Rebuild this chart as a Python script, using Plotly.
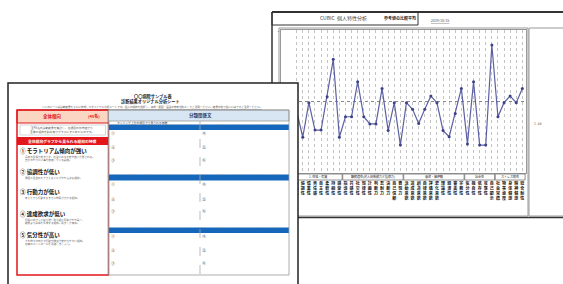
import plotly.graph_objects as go

W, H = 563, 284
FONT = "Noto Sans CJK JP"

# ---------------- data ----------------
scores = [46, 35, 49.5, 38, 38, 52, 67.7, 35, 43.6, 43.6, 58.3, 43.6, 40.6, 40.6,
          55.5, 37.8, 49.5, 31.7, 49.5, 46.7, 40.8, 46.7, 52.3, 49.5, 37.8, 35.2,
          45, 55.5, 32.2, 58.3, 31.7, 31.7, 73.7, 43.6, 49.5, 52.3, 49.5, 55.5]
item_names = ["積極性", "協調性", "慎重性", "責任感", "自主性", "柔軟性", "持続性", "感受性",
              "指導性", "共感性", "社交性", "規律性", "計画性", "判断力", "忍耐力", "決断力",
              "自己信頼", "表現力",
              "活動意欲", "達成意欲", "創造意欲", "自律意欲", "評価意欲", "変化意欲",
              "理論性", "経済性", "審美性", "宗教性",
              "気分性", "独自性", "依存性", "攻撃性", "自己顕示",
              "社会常識", "物事態度", "身体健康", "精神健康", "総合耐性"]
group_names = ["1. 性格・気質", "職務適性(対人関係能力と指導力)", "意欲・価値観", "社会性", "ストレス耐性"]
group_sizes = [8, 10, 10, 5, 5]
mean_score = 50
left_items = ["① モラトリアム傾向が強い", "② 協調性が低い", "③ 行動力が低い",
              "④ 達成欲求が低い", "⑤ 気分性が高い"]
right_numbers_left = ["①", "②", "③"]
right_numbers_right = ["④", "⑤", "⑥"]

# ---------------- helpers ----------------
def X(px):
    return px / W

def Y(py):
    return 1 - py / H

shapes = []
annotations = []

def rect(x0, y0, x1, y1, line="#222", width=1, fill="rgba(0,0,0,0)", layer="above", dash=None):
    d = dict(type="rect", xref="paper", yref="paper", x0=X(x0), x1=X(x1), y0=Y(y1), y1=Y(y0),
             line=dict(color=line, width=width), fillcolor=fill, layer=layer)
    if dash:
        d["line"]["dash"] = dash
    if width == 0:
        d["line"] = dict(width=0)
    shapes.append(d)

def line(x0, y0, x1, y1, color="#222", width=1, dash=None, layer="above"):
    d = dict(type="line", xref="paper", yref="paper", x0=X(x0), x1=X(x1), y0=Y(y0), y1=Y(y1),
             line=dict(color=color, width=width), layer=layer)
    if dash:
        d["line"]["dash"] = dash
    shapes.append(d)

def text(x, y, s, size=5, color="#222", anchor="center", bold=False):
    if bold:
        s = "<b>" + s + "</b>"
    annotations.append(dict(xref="paper", yref="paper", x=X(x), y=Y(y), text=s, showarrow=False,
                            xanchor=anchor, yanchor="middle",
                            font=dict(family=FONT, size=size, color=color), borderpad=0))

# ---------------- back document ----------------
line(272, 12, 563, 12, "#333", 2)
line(272, 12, 272, 90, "#333", 1.5)
rect(272, 12, 418, 25, "#333", 1)
text(343, 18.5, "CUBIC  個人特性分析", 5, "#444")
text(400, 18.5, "参考値の比較平均", 4, "#222", bold=True)
text(440, 20, "<u>2019/10/15</u>", 3.5, "#555")
rect(279, 28, 528, 216, "#999", 1)
rect(529, 28, 570, 216, "#999", 1)
text(533, 123, "1 .##", 3.5, "#666", anchor="left")
text(278, 32, "▪", 3, "#666")
line(298, 217.5, 563, 217.5, "#333", 1.5)

# group boxes below the chart
start = 0
spacing = 245 / (37.6 + 2.57)
for name, n in zip(group_names, group_sizes):
    x0 = 296.7 + spacing * (start - 0.45)
    x1 = 296.7 + spacing * (start + n - 1 + 0.45)
    rect(x0, 174, x1, 180, "#777", 0.8)
    text((x0 + x1) / 2, 177, name, 3, "#222")
    start += n

# mean line
shapes.append(dict(type="line", xref="paper", yref="y", x0=X(281), x1=X(526),
                   y0=mean_score, y1=mean_score, line=dict(color="#888", width=1, dash="dot"),
                   layer="below"))

# ---------------- front document ----------------
rect(8, 83, 298, 290, "#222", 1.5, fill="white")
text(153, 96, "〇〇病院サンプル表", 4.2, "#222", bold=True)
text(150, 101.3, "診断結果オリジナル分析シート", 4.2, "#222", bold=True)
text(152, 106.8, "<u>※このシートは診断結果をもとに作成したオリジナル分析シートです。個人の傾向を把握し、育成・配置・面談の参考資料としてご活用ください。結果の取り扱いには十分ご注意ください。</u>", 2.6, "#555")

# left panel
rect(17, 110, 108.5, 123, "#e3161b", 1, fill="#fbd6c3")
text(52, 116.5, "全体傾向", 4.5, "#e3161b", bold=True)
text(94, 116.5, "(45名)", 4, "#e3161b", bold=True)
text(62, 128, "全45名の診断結果を集計し、各項目の平均値から", 2.8, "#555")
text(62, 132, "全体の傾向を読み取りグラフにまとめたものです。", 2.8, "#555")
rect(20, 125, 105.5, 135, "#bbb", 0.6)
rect(17, 137, 108.5, 145, "#e3161b", 0, fill="#e3161b")
text(62, 141, "全体傾向グラフから見られる傾向の特徴", 3.8, "white", bold=True)
item_y = [151, 171.5, 192, 213.5, 235]
sub_lines = [["将来の目標が定まらず、社会に出る不安や迷いが見られる。", "自分のやりたい事を模索している段階。"],
             ["周囲と足並みをそろえることがやや苦手な傾向。"],
             ["考えてから行動するまでに時間がかかる傾向。"],
             ["目標に向かって粘り強く取り組む意欲がやや弱く、", "結果より過程を重視する傾向。励ましが有効。"],
             ["その時々の気分で行動や態度が変わりやすい傾向。", "感情のコントロールを意識しましょう。"]]
for yy, it, subs in zip(item_y, left_items, sub_lines):
    text(18.5, yy, it, 5.5, "#111", anchor="left", bold=True)
    for k, s in enumerate(subs):
        text(24, yy + 6 + 3.4 * k, s, 2.6, "#666", anchor="left")
rect(17, 110, 108.5, 275, "#e3161b", 1.5)

# right panel
rect(108.5, 110, 289, 121, "#999", 0.8, fill="#d8e5f2")
text(200, 115.5, "分類関係文", 4.5, "#1f3864", bold=True)
text(116, 122.7, "ランキング上位の項目から見られる特徴", 2.8, "#444", anchor="left")
band_y = [(124.5, 130), (174.5, 180.5), (227.5, 233)]
row_y = [[133, 146.5, 160], [184, 198.5, 211], [236.5, 250, 263]]
for (b0, b1), rows in zip(band_y, row_y):
    rect(108.5, b0, 289, b1, "#0f62b5", 0, fill="#1467ba")
    line(108.5, b0, 289, b0, "#9ab", 0.6, dash="dash")
    for nl, nr, yy in zip(right_numbers_left, right_numbers_right, rows):
        text(113, yy, nl, 4, "#222")
        text(203.5, yy, nr, 4, "#222")
line(200, 121, 200, 275, "#aaa", 0.8, dash="dash")
rect(108.5, 110, 289, 275, "#999", 0.8)

# ---------------- figure ----------------
fig = go.Figure()
fig.add_trace(go.Scatter(x=list(range(len(scores))), y=scores, mode="lines+markers",
                         line=dict(color="#5c60a2", width=1.2),
                         marker=dict(size=3, color="#3c4188"), showlegend=False,
                         hoverinfo="skip"))

ticktext = ["<b>" + "<br>".join(list(n)) + "</b>" for n in item_names]
fig.update_layout(
    width=W, height=H, margin=dict(l=0, r=0, t=0, b=0),
    paper_bgcolor="white", plot_bgcolor="white", showlegend=False,
    font=dict(family=FONT),
    xaxis=dict(domain=[X(281), X(526)], range=[-2.57, 37.6], tickmode="array",
               tickvals=list(range(len(scores))), ticktext=ticktext,
               tickfont=dict(size=4, color="#111", family=FONT), tickangle=0,
               ticklabelstandoff=6,
               showgrid=True, gridcolor="#c2c2c2", griddash="dot", gridwidth=1,
               showline=True, linecolor="#999", linewidth=1, mirror=True,
               zeroline=False, ticks=""),
    yaxis=dict(domain=[Y(173), Y(30)], range=[20, 80], showgrid=False,
               showticklabels=False, showline=True, linecolor="#999", linewidth=1,
               mirror=True, zeroline=False, ticks=""),
    shapes=shapes, annotations=annotations,
)
fig.write_html("out.html", config={"displayModeBar": False},
               post_script="document.body.style.margin='0';")
